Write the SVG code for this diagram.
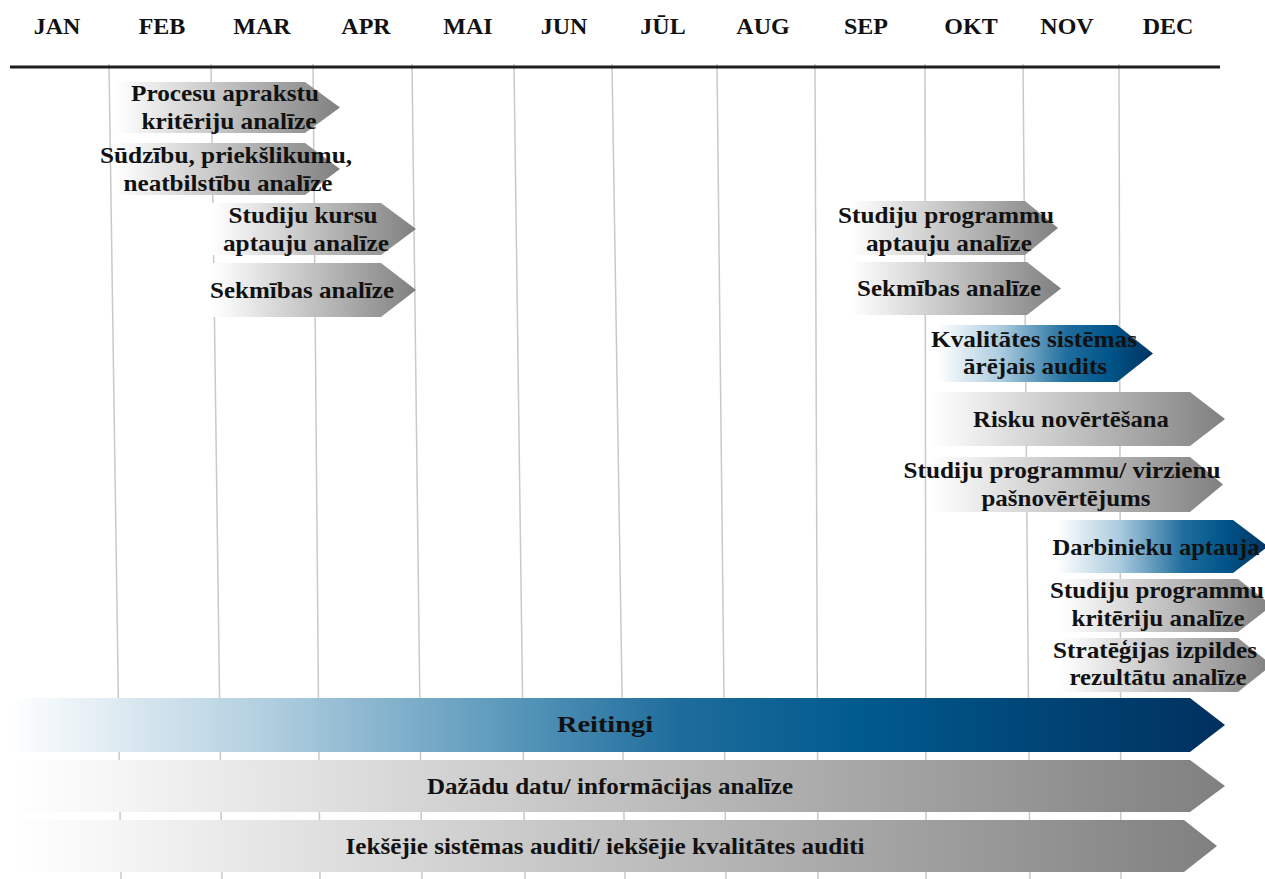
<svg xmlns="http://www.w3.org/2000/svg" width="1265" height="879" viewBox="0 0 1265 879">
<style>
text{font-family:"Liberation Serif","Times New Roman",serif;font-weight:bold;fill:#111;}
.m{font-size:24px;text-anchor:middle;}
.t{font-size:24px;text-anchor:middle;}
.g{stroke:#c9c9c9;stroke-width:1.5;fill:none;}
.ga{fill:url(#grey);}
.ba{fill:url(#blue);}
</style>
<defs>
<linearGradient id="grey" x1="0" y1="0" x2="1" y2="0">
<stop offset="0" stop-color="#ffffff"/>
<stop offset="0.08" stop-color="#f6f6f6"/>
<stop offset="1" stop-color="#808080"/>
</linearGradient>
<linearGradient id="blue" x1="0" y1="0" x2="1" y2="0">
<stop offset="0" stop-color="#ffffff"/>
<stop offset="0.3" stop-color="#a9cade"/>
<stop offset="0.6" stop-color="#1f6d9d"/>
<stop offset="0.8" stop-color="#005489"/>
<stop offset="1" stop-color="#01335f"/>
</linearGradient>
<linearGradient id="rblue" x1="0" y1="0" x2="1" y2="0">
<stop offset="0" stop-color="#ffffff"/>
<stop offset="0.03" stop-color="#f2f7fa"/>
<stop offset="0.2" stop-color="#b5d1e1"/>
<stop offset="0.4" stop-color="#5e9bbd"/>
<stop offset="0.55" stop-color="#1e6c9c"/>
<stop offset="0.7" stop-color="#005a8e"/>
<stop offset="1" stop-color="#00305e"/>
</linearGradient>
</defs>
<rect width="1265" height="879" fill="#fff"/>

<g id="grid">
<line class="g" x1="109" y1="64" x2="121" y2="879"/>
<line class="g" x1="211" y1="64" x2="222" y2="879"/>
<line class="g" x1="313" y1="64" x2="320" y2="879"/>
<line class="g" x1="412" y1="64" x2="422" y2="879"/>
<line class="g" x1="514" y1="64" x2="525" y2="879"/>
<line class="g" x1="612" y1="64" x2="625" y2="879"/>
<line class="g" x1="717" y1="64" x2="726" y2="879"/>
<line class="g" x1="815" y1="64" x2="818" y2="879"/>
<line class="g" x1="925" y1="64" x2="926" y2="879"/>
<line class="g" x1="1023" y1="64" x2="1030" y2="879"/>
<line class="g" x1="1119" y1="64" x2="1121" y2="879"/>
<line x1="10" y1="67" x2="1220" y2="67" stroke="#1e1e1e" stroke-width="3"/>
</g>

<g id="months">
<text class="m" x="57" y="34">JAN</text>
<text class="m" x="162" y="34">FEB</text>
<text class="m" x="262" y="34">MAR</text>
<text class="m" x="366" y="34">APR</text>
<text class="m" x="468" y="34">MAI</text>
<text class="m" x="564" y="34">JUN</text>
<text class="m" x="663" y="34">JŪL</text>
<text class="m" x="763" y="34">AUG</text>
<text class="m" x="866" y="34">SEP</text>
<text class="m" x="971" y="34">OKT</text>
<text class="m" x="1067" y="34">NOV</text>
<text class="m" x="1168" y="34">DEC</text>
</g>

<g id="n1">
<polygon class="ga" points="115,82 305,82 340,107.5 305,133 115,133"/>
<text class="t" x="225" y="101" textLength="188" lengthAdjust="spacingAndGlyphs">Procesu aprakstu</text>
<text class="t" x="229" y="129" textLength="175" lengthAdjust="spacingAndGlyphs">kritēriju analīze</text>
</g>
<g id="n2">
<polygon class="ga" points="115,143 305,143 340,169 305,195 115,195"/>
<text class="t" x="226" y="163" textLength="252" lengthAdjust="spacingAndGlyphs">Sūdzību, priekšlikumu,</text>
<text class="t" x="228" y="191" textLength="209" lengthAdjust="spacingAndGlyphs">neatbilstību analīze</text>
</g>
<g id="n3">
<polygon class="ga" points="212,203 381,203 416,229 381,255 212,255"/>
<text class="t" x="303" y="223" textLength="149" lengthAdjust="spacingAndGlyphs">Studiju kursu</text>
<text class="t" x="306" y="251" textLength="166" lengthAdjust="spacingAndGlyphs">aptauju analīze</text>
</g>
<g id="n4">
<polygon class="ga" points="212,263 381,263 416,290 381,317 212,317"/>
<text class="t" x="302" y="298" textLength="184" lengthAdjust="spacingAndGlyphs">Sekmības analīze</text>
</g>
<g id="n5">
<polygon class="ga" points="850,201 1025,201 1058,228 1025,255 850,255"/>
<text class="t" x="946" y="223" textLength="216" lengthAdjust="spacingAndGlyphs">Studiju programmu</text>
<text class="t" x="949" y="251" textLength="166" lengthAdjust="spacingAndGlyphs">aptauju analīze</text>
</g>
<g id="n6">
<polygon class="ga" points="850,262 1027,262 1061,288.5 1027,315 850,315"/>
<text class="t" x="949" y="296" textLength="184" lengthAdjust="spacingAndGlyphs">Sekmības analīze</text>
</g>
<g id="n7">
<polygon class="ba" points="938,325 1117,325 1153,353.5 1117,382 938,382"/>
<text class="t" x="1034" y="347" textLength="206" lengthAdjust="spacingAndGlyphs">Kvalitātes sistēmas</text>
<text class="t" x="1035" y="374" textLength="144" lengthAdjust="spacingAndGlyphs">ārējais audits</text>
</g>
<g id="n8">
<polygon class="ga" points="930,392 1190,392 1225,419 1190,446 930,446"/>
<text class="t" x="1071" y="427" textLength="196" lengthAdjust="spacingAndGlyphs">Risku novērtēšana</text>
</g>
<g id="n9">
<polygon class="ga" points="930,457 1190,457 1223,484.5 1190,512 930,512"/>
<text class="t" x="1062" y="478" textLength="317" lengthAdjust="spacingAndGlyphs">Studiju programmu/ virzienu</text>
<text class="t" x="1066" y="506" textLength="169" lengthAdjust="spacingAndGlyphs">pašnovērtējums</text>
</g>
<g id="n10">
<polygon class="ba" points="1057,520 1233,520 1268,546.5 1233,573 1057,573"/>
<text class="t" x="1156" y="555" textLength="207" lengthAdjust="spacingAndGlyphs">Darbinieku aptauja</text>
</g>
<g id="n11">
<polygon class="ga" points="1060,579 1238,579 1272,605.5 1238,632 1060,632"/>
<text class="t" x="1157" y="598" textLength="214" lengthAdjust="spacingAndGlyphs">Studiju programmu</text>
<text class="t" x="1158" y="626" textLength="173" lengthAdjust="spacingAndGlyphs">kritēriju analīze</text>
</g>
<g id="n12">
<polygon class="ga" points="1060,638 1238,638 1272,665 1238,692 1060,692"/>
<text class="t" x="1155" y="658" textLength="204" lengthAdjust="spacingAndGlyphs">Stratēģijas izpildes</text>
<text class="t" x="1158" y="685" textLength="177" lengthAdjust="spacingAndGlyphs">rezultātu analīze</text>
</g>
<g id="n13">
<polygon points="12,698 1190,698 1225,725 1190,752 12,752" fill="url(#rblue)"/>
<text class="t" x="605" y="732" textLength="96" lengthAdjust="spacingAndGlyphs">Reitingi</text>
</g>
<g id="n14">
<polygon class="ga" points="12,760 1190,760 1225,786 1190,812 12,812"/>
<text class="t" x="610" y="794" textLength="366" lengthAdjust="spacingAndGlyphs">Dažādu datu/ informācijas analīze</text>
</g>
<g id="n15">
<polygon class="ga" points="12,820 1184,820 1217,846 1184,872 12,872"/>
<text class="t" x="605" y="854" textLength="519" lengthAdjust="spacingAndGlyphs">Iekšējie sistēmas auditi/ iekšējie kvalitātes auditi</text>
</g>
<g id="connectors"></g>
</svg>
